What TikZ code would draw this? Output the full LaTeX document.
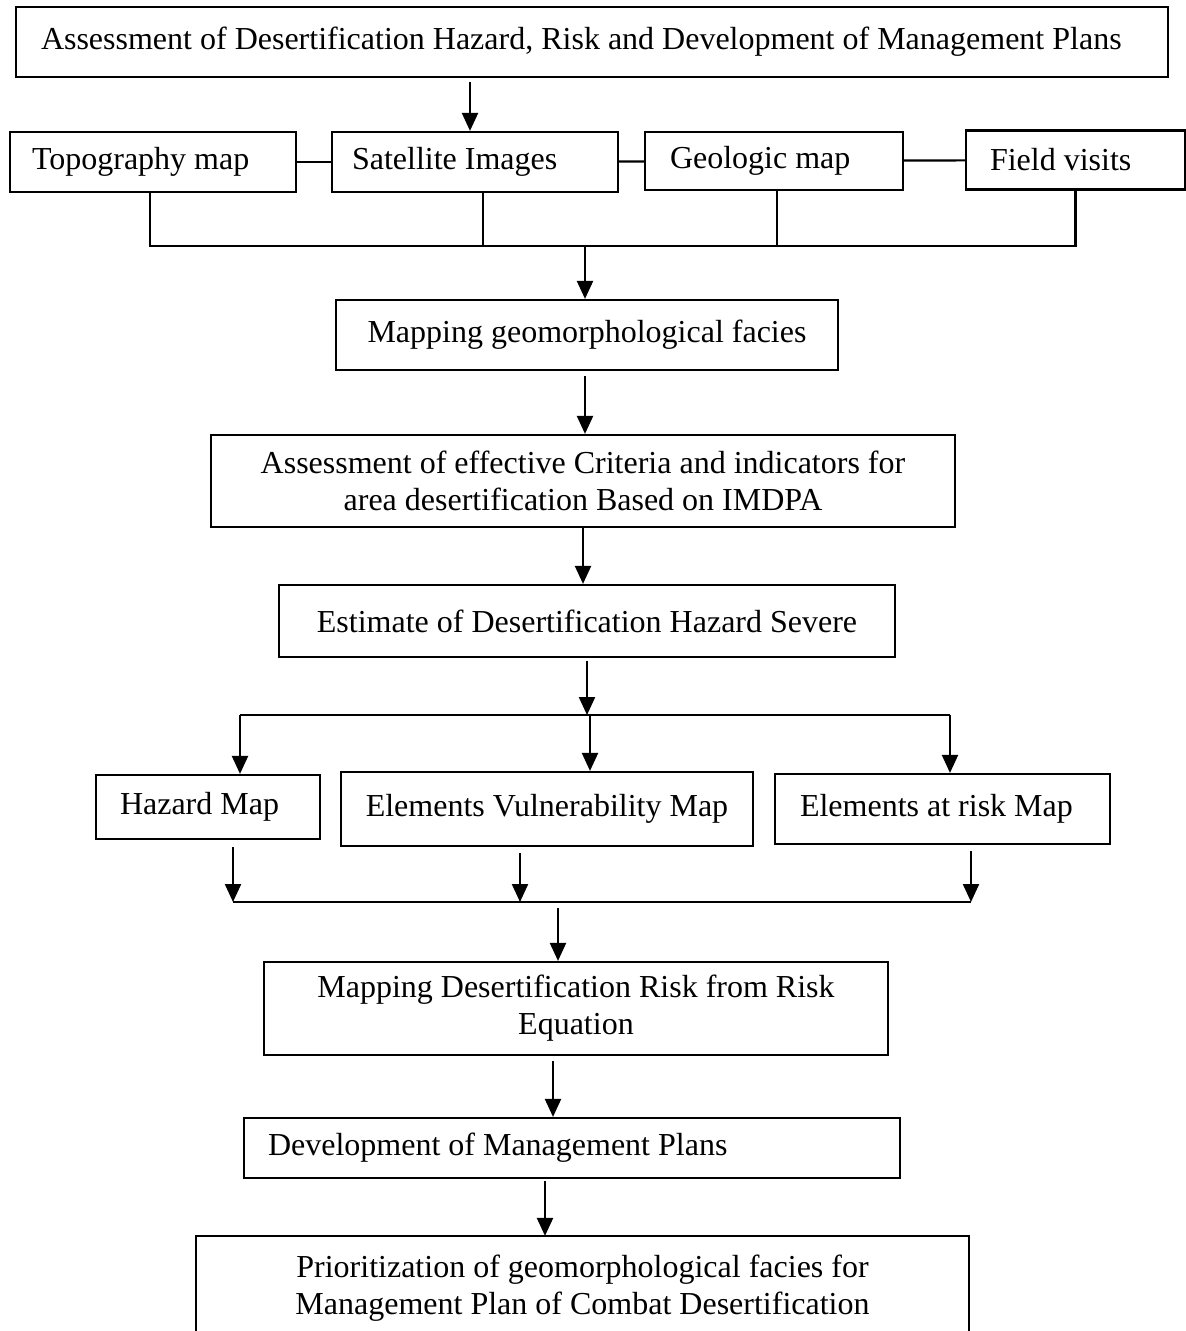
\documentclass[tikz,border=0pt]{standalone}
\usepackage{fontspec}
\setmainfont{Liberation Serif}
\usetikzlibrary{arrows.meta}
\begin{document}
\begin{tikzpicture}[x=1pt,y=-1pt,
  box/.style={draw, line width=2.2pt, inner sep=0pt, font=\fontsize{32}{37}\selectfont, align=center},
  lbox/.style={box, align=flush left},
  arr/.style={-{Triangle[length=18pt,width=16pt]}, line width=2.2pt},
  ln/.style={line width=2.2pt}]
\useasboundingbox (0,0) rectangle (1186,1331);
\clip (0,0) rectangle (1186,1331);
\fill[white] (0,0) rectangle (1186,1331);

% boxes
\node[lbox, minimum width=1152, minimum height=70, text width=1102, inner xsep=25pt] (top) at (592,42)
  {Assessment of Desertification Hazard, Risk and Development of Management Plans};
\node[lbox, minimum width=286, minimum height=60, text width=242, inner xsep=22pt] (topo) at (153,162) {Topography map};
\node[lbox, minimum width=286, minimum height=60, text width=246, inner xsep=20pt] (sat) at (475,162) {Satellite Images};
\node[lbox, minimum width=258, minimum height=58, text width=208, inner xsep=25pt] (geo) at (774,161) {Geologic map};
\node[lbox, minimum width=219, minimum height=59, text width=171, inner xsep=24pt] (field) at (1075.5,160) {Field visits};
\node[box, minimum width=502, minimum height=70] (facies) at (587,335) {Mapping geomorphological facies};
\node[box, minimum width=744, minimum height=92] (assess) at (583,481)
  {Assessment of effective Criteria and indicators for\\area desertification Based on IMDPA};
\node[box, minimum width=616, minimum height=72] (est) at (587,621) {Estimate of Desertification Hazard Severe};
\node[lbox, minimum width=224, minimum height=64, text width=176, inner xsep=24pt] (haz) at (208,807) {Hazard Map};
\node[box, minimum width=412, minimum height=74] (vuln) at (547,809) {Elements Vulnerability Map};
\node[lbox, minimum width=335, minimum height=70, text width=285, inner xsep=25pt] (risk) at (942.5,809) {Elements at risk Map};
\node[box, minimum width=624, minimum height=93] (riskeq) at (576,1008.5)
  {Mapping Desertification Risk from Risk\\Equation};
\node[lbox, minimum width=656, minimum height=60, text width=608, inner xsep=24pt] (dev) at (572,1148) {Development of Management Plans};
\node[box, draw=none, minimum width=771, minimum height=90] (prior) at (582.5,1288)
  {Prioritization of geomorphological facies for\\Management Plan of Combat Desertification};
\coordinate (ptop) at ([yshift=6pt]prior.north);
\draw[ln] ([yshift=-40pt]prior.south west) -- (prior.west |- ptop) -- (prior.east |- ptop) -- ([yshift=-40pt]prior.south east);

% connectors, top part
\draw[arr, shorten <=4pt] ([xshift=-5pt]sat.north |- top.south) -- ([xshift=-5pt]sat.north);
\draw[ln] (topo) -- (sat);
\draw[ln] (sat) -- (geo);
\draw[ln] (geo) -- (field);
\coordinate (bus1) at (585,246);
\draw[ln] ([xshift=-3pt]topo.south) -- ([xshift=-3pt]topo.south |- bus1) -- (field.south |- bus1) -- (field.south);
\draw[ln] ([xshift=8pt]sat.south) -- ([xshift=8pt]sat.south |- bus1);
\draw[ln] ([xshift=3pt]geo.south) -- ([xshift=3pt]geo.south |- bus1);
\draw[arr] (bus1) -- (bus1 |- facies.north);

% middle chain
\draw[arr, shorten <=5pt] ([xshift=-2pt]facies.south) -- ([xshift=-2pt]facies.south |- assess.north);
\draw[arr] (assess.south) -- (assess.south |- est.north);
\coordinate (bus2) at (587,715);
\draw[arr, shorten <=3pt] (est.south) -- (bus2);
\coordinate (b2l) at (240,715);
\coordinate (b2r) at (950,715);
\draw[ln] (b2l) -- (b2r);
\draw[arr] (b2l) -- (b2l |- haz.north);
\draw[arr] ([xshift=43pt]vuln.north |- bus2) -- ([xshift=43pt]vuln.north);
\draw[arr] (b2r) -- (b2r |- risk.north);

% lower merge
\coordinate (b3l) at (233,902);
\coordinate (b3r) at (971,902);
\coordinate (b3m) at (558,902);
\draw[arr, shorten <=7pt] (b3l |- haz.south) -- (b3l);
\draw[arr, shorten <=6pt] ([xshift=-27pt]vuln.south) -- ([xshift=-27pt]vuln.south |- b3l);
\draw[arr, shorten <=6pt] (b3r |- risk.south) -- (b3r);
\draw[ln] (b3l) -- (b3r);
\draw[arr, shorten <=6pt] (b3m) -- (b3m |- riskeq.north);
\draw[arr, shorten <=5pt] ([xshift=-23pt]riskeq.south) -- ([xshift=-23pt]riskeq.south |- dev.north);
\draw[arr, shorten <=2pt] ([xshift=-27pt]dev.south) -- ([xshift=-27pt]dev.south |- ptop);
\end{tikzpicture}
\end{document}
